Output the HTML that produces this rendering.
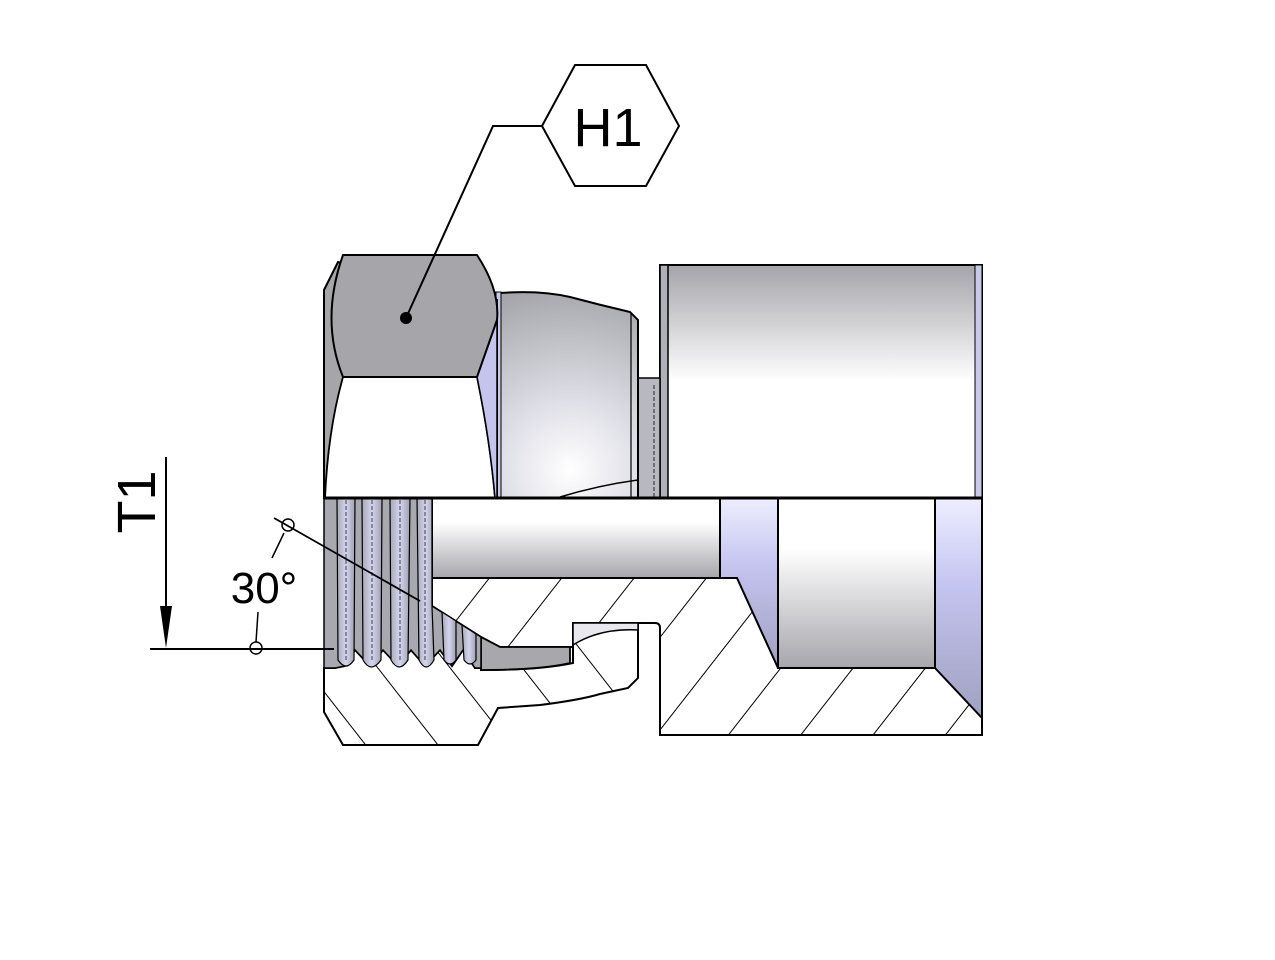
<!DOCTYPE html>
<html><head><meta charset="utf-8"><style>html,body{margin:0;padding:0;background:#fff}svg{display:block}</style></head>
<body>
<svg width="1275" height="960" viewBox="0 0 1275 960" xmlns="http://www.w3.org/2000/svg" font-family="Liberation Sans, sans-serif">
<defs>
<linearGradient id="cyl" x1="0" y1="0" x2="0" y2="1">
<stop offset="0" stop-color="#a4a4aa"/><stop offset="0.5" stop-color="#ffffff"/><stop offset="1" stop-color="#ffffff"/></linearGradient>
<linearGradient id="bore" x1="0" y1="0" x2="0" y2="1">
<stop offset="0" stop-color="#ffffff"/><stop offset="0.3" stop-color="#ffffff"/><stop offset="1" stop-color="#a6a6ac"/></linearGradient>
<radialGradient id="bulge" cx="570" cy="470" r="190" gradientUnits="userSpaceOnUse">
<stop offset="0" stop-color="#ffffff"/><stop offset="0.35" stop-color="#e0e0e8"/><stop offset="1" stop-color="#a2a2a8"/></radialGradient>
<linearGradient id="blue" x1="0" y1="0" x2="0" y2="1">
<stop offset="0" stop-color="#eeeeff"/><stop offset="0.4" stop-color="#c4c4f0"/><stop offset="1" stop-color="#a0a0c0"/></linearGradient>
<linearGradient id="thr" x1="0" y1="0" x2="1" y2="0">
<stop offset="0" stop-color="#a8a8b4"/><stop offset="0.5" stop-color="#d4d4f0"/><stop offset="1" stop-color="#a0a0b0"/></linearGradient>
<pattern id="hatchA" patternUnits="userSpaceOnUse" width="57" height="57" patternTransform="rotate(38)">
<rect width="57" height="57" fill="#fff"/><line x1="0" y1="0" x2="0" y2="57" stroke="#000" stroke-width="2"/></pattern>
<pattern id="hatchB" patternUnits="userSpaceOnUse" width="57" height="57" patternTransform="rotate(-38)">
<rect width="57" height="57" fill="#fff"/><line x1="0" y1="0" x2="0" y2="57" stroke="#000" stroke-width="2"/></pattern>
</defs>

<!-- Upper part -->
<rect x="660" y="265" width="322" height="233" fill="url(#cyl)" stroke="#000" stroke-width="2"/>
<rect x="660" y="265" width="8" height="233" fill="#b0b0b8" stroke="#000" stroke-width="1.5"/>
<rect x="975" y="265" width="7" height="233" fill="#c8c8e8" stroke="#000" stroke-width="1"/>
<rect x="638" y="378" width="22" height="120" fill="#b8b8c0" stroke="#000" stroke-width="1.5"/>
<line x1="654" y1="385" x2="654" y2="498" stroke="#000" stroke-width="0.8" stroke-dasharray="4,2"/>
<path d="M500,293 Q540,290 570,297 Q600,305 630,312 L638,320 L638,498 L500,498 Z" fill="url(#bulge)" stroke="#000" stroke-width="2"/>
<line x1="631" y1="312" x2="631" y2="498" stroke="#000" stroke-width="1.2"/>
<path d="M560,497 Q600,485 638,480" fill="none" stroke="#000" stroke-width="1.5"/>
<rect x="496" y="292" width="5" height="206" fill="#c8c8e8" stroke="#000" stroke-width="1"/>
<!-- nut -->
<path d="M324,290 L338,262 L497,300 L497,498 L324,498 Z" fill="#a6a6aa" stroke="#000" stroke-width="2"/>
<path d="M343,377 L477,377 Q490,440 495,498 L325,498 Q328,430 343,377 Z" fill="#fff" stroke="#000" stroke-width="1.8"/>
<path d="M477,377 Q490,440 495,498 L497,498 L497,320 Z" fill="#c4c4ec" stroke="#000" stroke-width="1.5"/>
<path d="M343,255 L477,255 Q500,290 497,320 L477,377 L343,377 Q320,320 343,255 Z" fill="#a6a6aa" stroke="#000" stroke-width="2"/>
<line x1="324" y1="290" x2="324" y2="498" stroke="#000" stroke-width="2"/>

<!-- Lower part -->
<!-- body -->
<path d="M432,498 L982,498 L982,735 L660,735 L660,628 Q660,623 655,623 L573,623 L573,647 L500,647 L481,637 L432,606 Z" fill="url(#hatchA)" stroke="#000" stroke-width="2"/>
<!-- nut -->
<path d="M324,668 L324,712 L343,745 L478,745 L498,708 L540,705 Q580,700 600,694 L628,688 L638,678 L638,623 L573,623 L573,663 Q540,670 481,670 L481,668 L475,668 L463,650 L452,666 L440,650 L425,666 L411,650 L398,666 L383,650 L370,666 L355,650 L345,666 L335,668 Z" fill="url(#hatchB)" stroke="#000" stroke-width="2"/>
<!-- groove sliver -->
<path d="M573,623 L638,623 L638,630 Q600,628 573,645 Z" fill="#e8e8ee" stroke="#000" stroke-width="1.5"/>
<!-- lip -->
<path d="M481,637 L500,647 L570,647 L570,663 Q540,670 481,670 Z" fill="#a8a8ac" stroke="#000" stroke-width="1.8"/>
<!-- bore & chamfers -->
<rect x="432" y="498" width="288" height="80" fill="url(#bore)" stroke="#000" stroke-width="2"/>
<path d="M720,498 L778,498 L778,668 L737,578 L720,578 Z" fill="url(#blue)" stroke="#000" stroke-width="2"/>
<rect x="778" y="498" width="157" height="170" fill="url(#bore)" stroke="#000" stroke-width="2"/>
<path d="M935,498 L982,498 L982,718 L935,668 Z" fill="url(#blue)" stroke="#000" stroke-width="2"/>
<!-- threads -->
<path d="M324,498 L432,498 L432,606 L481,637 L481,668 L475,668 L463,650 L452,666 L440,650 L425,666 L411,650 L398,666 L383,650 L370,666 L355,650 L345,666 L335,668 L324,668 Z" fill="#a8a8b0" stroke="#000" stroke-width="1.5"/>
<g stroke="#000" stroke-width="1.2" fill="url(#thr)">
<path d="M337,498 L355,498 L354,660 Q346,672 338,660 Z"/>
<path d="M362,498 L382,498 L381,660 Q371,674 363,660 Z"/>
<path d="M390,498 L410,498 L408,660 Q399,674 391,660 Z"/>
<path d="M417,498 L432,498 L432,606 L434,660 Q426,674 419,660 Z"/>
<path d="M442,612 L456,621 L456,660 Q450,668 444,660 Z"/>
<path d="M462,625 L476,634 L476,660 Q470,668 464,660 Z"/>
</g>
<g stroke="#000" stroke-width="0.7" stroke-dasharray="4,2">
<line x1="346" y1="500" x2="346" y2="660"/><line x1="372" y1="500" x2="372" y2="660"/>
<line x1="400" y1="500" x2="400" y2="660"/><line x1="425" y1="500" x2="425" y2="660"/>
</g>
<line x1="324" y1="498" x2="982" y2="498" stroke="#000" stroke-width="3"/>

<!-- H1 callout -->
<polygon points="542,126 575,65 646,65 679,126 646,186 575,186" fill="#fff" stroke="#000" stroke-width="2"/>
<text x="608" y="146" font-size="54" text-anchor="middle">H1</text>
<polyline points="542,126 493,126 406,318" fill="none" stroke="#000" stroke-width="2"/>
<circle cx="406" cy="318" r="6" fill="#000"/>

<!-- T1 dimension -->
<line x1="166" y1="457" x2="166" y2="640" stroke="#000" stroke-width="2"/>
<polygon points="160,606 172,606 166,648" fill="#000"/>
<line x1="150" y1="649" x2="334" y2="649" stroke="#000" stroke-width="2"/>
<text transform="translate(155,502) rotate(-90)" font-size="54" text-anchor="middle">T1</text>
<circle cx="256" cy="648" r="6" fill="none" stroke="#000" stroke-width="1.5"/>
<line x1="256" y1="642" x2="258" y2="612" stroke="#000" stroke-width="1.5"/>
<circle cx="288" cy="525" r="6" fill="none" stroke="#000" stroke-width="1.5"/>
<line x1="274" y1="518" x2="420" y2="601" stroke="#000" stroke-width="1.8"/>
<line x1="284" y1="533" x2="272" y2="558" stroke="#000" stroke-width="1.5"/>
<text x="264" y="603" font-size="44" text-anchor="middle">30°</text>
</svg>
</body></html>
